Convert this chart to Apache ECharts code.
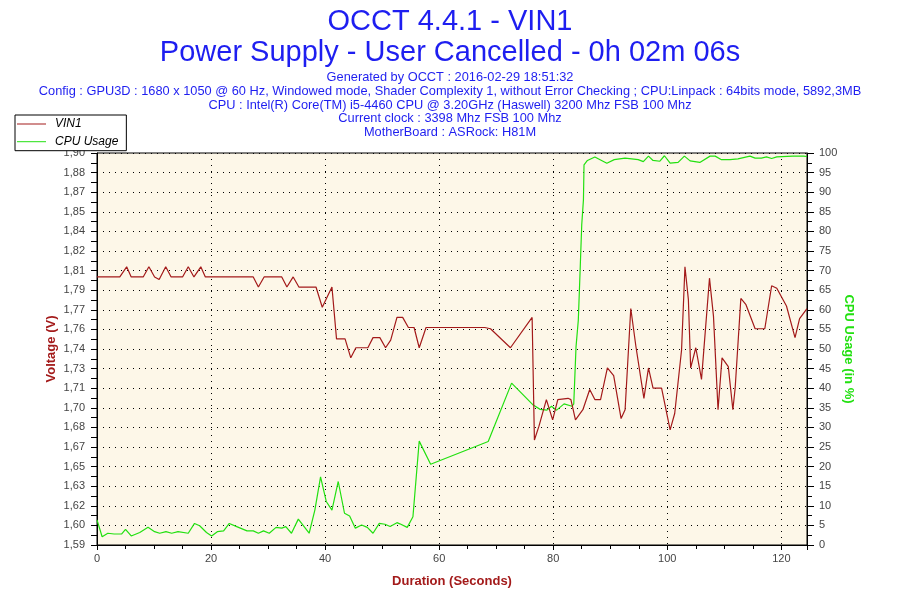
<!DOCTYPE html>
<html>
<head>
<meta charset="utf-8">
<script src="https://cdn.jsdelivr.net/npm/echarts@6/dist/echarts.min.js"></script>
<style>html,body{margin:0;padding:0;background:#fff}#c{width:900px;height:600px}</style>
</head>
<body>
<div id="c"></div>
<script>
// ---- data ----
const vinTime = [0,4,5.2,6.0,8.1,9.1,10.1,10.9,12.05,13.0,15.0,16.0,17.0,18.2,19.0,27.4,28.3,29.3,32.4,33.3,34.4,35.4,38.4,39.5,41.2,42.0,42.6,43.5,44.5,45.4,47.5,48.4,49.6,50.6,51.5,52.6,53.6,54.6,55.6,56.5,57.7,58.4,62.2,68.0,69.0,72.5,76.3,76.5,76.7,77.0,77.5,78.8,79.9,80.8,81.0,82.6,83.1,83.9,85.2,86.4,87.3,88.3,89.5,90.6,91.9,92.6,93.6,94.5,95.9,96.7,97.5,99.0,100.5,101.3,102.5,103.1,103.7,104.1,105.0,106.0,107.4,108.1,108.9,109.6,110.7,111.5,111.9,112.9,113.8,115.4,117.1,118.3,119.2,120.9,122.4,123.2,124.5];
const vinVolts = [1.802,1.802,1.810,1.802,1.802,1.810,1.802,1.800,1.810,1.802,1.802,1.810,1.802,1.810,1.802,1.802,1.794,1.802,1.802,1.794,1.802,1.794,1.794,1.778,1.794,1.753,1.753,1.753,1.738,1.746,1.746,1.754,1.754,1.746,1.752,1.770,1.770,1.762,1.762,1.746,1.762,1.762,1.762,1.762,1.761,1.746,1.770,1.770,1.673,1.673,1.684,1.705,1.689,1.705,1.706,1.706,1.705,1.689,1.697,1.713,1.705,1.705,1.730,1.724,1.690,1.697,1.777,1.747,1.706,1.730,1.714,1.714,1.681,1.694,1.744,1.810,1.784,1.730,1.746,1.721,1.801,1.771,1.697,1.738,1.731,1.697,1.714,1.785,1.780,1.761,1.761,1.795,1.793,1.779,1.754,1.769,1.777];
const cpuTime = [0,0.9,1.9,3.0,4.3,5.0,6.0,7.5,8.95,10.1,11.0,12.1,13.1,14.2,16.0,17.1,18.0,19.2,20.1,21.1,22.2,23.2,24.5,26.3,27.4,28.3,29.2,30.2,31.4,32.4,33.1,34.1,35.3,37.2,38.2,39.2,40.2,41.2,42.3,43.4,44.3,45.3,46.4,47.4,48.4,49.5,50.5,51.4,52.6,53.1,54.4,55.4,56.5,58.5,68.6,72.7,76.5,77.7,78.9,79.7,80.6,81.9,83.3,83.6,84.0,84.4,84.7,85.0,85.3,85.4,86.0,87.3,89.4,90.7,92.6,94.9,95.8,96.7,97.5,98.7,99.5,100.5,101.9,103.0,104.0,105.7,107.5,108.4,109.5,111.0,112.4,114.5,115.4,116.5,117.4,118.3,119.2,120.1,122.0,123.9,124.5];
const cpuUsage = [6.4,2.1,3.0,2.8,2.8,4.0,2.3,3.2,4.5,3.4,3.0,3.4,3.0,3.4,3.0,5.5,4.9,3.2,2.3,3.4,3.6,5.5,4.7,3.6,3.6,3.0,3.6,3.0,4.5,4.3,4.7,3.0,6.6,3.0,8.9,17.4,11.1,8.9,16.2,8.1,7.4,4.3,5.1,4.5,3.0,5.5,5.3,4.7,5.7,5.4,4.5,7.2,26.5,20.6,26.4,41.3,35.7,34.6,34.4,35.4,34.4,36.0,35.4,36.0,50.6,57.4,69.4,81.7,88.1,97.0,98.1,99.0,97.4,98.3,98.7,98.3,97.8,99.2,98.1,97.9,99.3,97.4,97.6,99.2,98.0,97.6,99.2,99.2,98.3,98.3,98.5,99.2,98.7,98.7,99.0,98.6,99.0,99.1,99.2,99.2,99.1];
const voltTickLabels = ['1,59','1,60','1,62','1,63','1,65','1,67','1,68','1,70','1,71','1,73','1,74','1,76','1,77','1,79','1,81','1,82','1,84','1,85','1,87','1,88','1,90'];
const xTickLabels = [0,20,40,60,80,100,120];
const titleLines = ['OCCT 4.4.1 - VIN1', 'Power Supply - User Cancelled - 0h 02m 06s'];
const subLines = [
  'Generated by OCCT : 2016-02-29 18:51:32',
  'Config : GPU3D : 1680 x 1050 @ 60 Hz, Windowed mode, Shader Complexity 1, without Error Checking ; CPU:Linpack : 64bits mode, 5892,3MB',
  'CPU : Intel(R) Core(TM) i5-4460 CPU @ 3.20GHz (Haswell) 3200 Mhz FSB 100 Mhz',
  'Current clock : 3398 Mhz FSB 100 Mhz',
  'MotherBoard : ASRock: H81M'
];

// ---- layout helpers ----
const vMin = 1.59, vMax = 1.90;
const vStep = (vMax - vMin) / (voltTickLabels.length - 1);
const voltTicks = voltTickLabels.map((_, i) => vMin + i * vStep);
const voltMinorTicks = [];
for (let i = 0; i < (voltTickLabels.length - 1) * 2 + 1; i++) voltMinorTicks.push(vMin + i * vStep / 2);

const vinData = vinTime.map((t, i) => [t, vinVolts[i]]);
const cpuData = cpuTime.map((t, i) => [t, cpuUsage[i]]);

const FONT = 'Liberation Sans, Arial, sans-serif';
const RED = '#A31A1A';
const GREEN = '#22E010';
const BLUE = '#1E1EF0';

const titles = [];
titleLines.forEach((t, i) => titles.push({
  text: t, left: 'center', top: 7 + i * 31, padding: 0,
  textStyle: {fontFamily: FONT, fontSize: 29, fontWeight: 'normal', color: BLUE}
}));
subLines.forEach((t, i) => titles.push({
  text: t, left: 'center', top: 71 + i * 13.75, padding: 0,
  textStyle: {fontFamily: FONT, fontSize: 12.8, fontWeight: 'normal', color: BLUE}
}));

const chart = echarts.init(document.getElementById('c'), null, {renderer: 'canvas'});
chart.setOption({
  backgroundColor: '#ffffff',
  animation: false,
  title: titles,
  legend: {
    orient: 'vertical', left: 15, top: 115,
    backgroundColor: '#ffffff', borderColor: '#000', borderWidth: 1, borderRadius: 0,
    padding: [2, 8, 2, 2], itemGap: 3.7,
    itemWidth: 29, itemHeight: 1, icon: 'rect',
    textStyle: {fontFamily: FONT, fontSize: 12, fontStyle: 'italic', color: '#000', lineHeight: 14, padding: [0,0,0,4]},
    data: ['VIN1', 'CPU Usage']
  },
  grid: {
    left: 97, right: 93, top: 153, bottom: 55,
    show: true, backgroundColor: '#FDF7E8', borderColor: '#000', borderWidth: 1,
    outerBoundsMode: 'none'
  },
  xAxis: {
    type: 'value', min: 0, max: 124.5, interval: 20,
    name: 'Duration (Seconds)', nameLocation: 'middle', nameGap: 30,
    nameTextStyle: {fontFamily: FONT, fontSize: 13, fontWeight: 'bold', color: RED},
    axisLine: {show: true, onZero: false, lineStyle: {color: '#000', width: 1}},
    axisTick: {show: true, length: 5, lineStyle: {color: '#000'}},
    minorTick: {show: true, splitNumber: 4, length: 4, lineStyle: {color: '#000'}},
    axisLabel: {
      fontFamily: FONT, fontSize: 11, color: '#444', margin: 8,
      formatter: v => (xTickLabels.indexOf(Math.round(v * 100) / 100) >= 0 ? String(v) : '')
    },
    splitLine: {show: true, lineStyle: {color: '#000', type: [1, 5], width: 1}},
    minorSplitLine: {show: false}
  },
  yAxis: [
    {
      type: 'value', min: vMin, max: vMax, position: 'left',
      name: 'Voltage (V)', nameLocation: 'middle', nameGap: 39, nameRotate: 90, nameMoveOverlap: false,
      nameTextStyle: {fontFamily: FONT, fontSize: 13, fontWeight: 'bold', color: RED},
      axisLine: {show: true, lineStyle: {color: '#000', width: 1}},
      axisTick: {show: true, length: 6, customValues: voltMinorTicks, lineStyle: {color: '#000'}},
      axisLabel: {
        fontFamily: FONT, fontSize: 11, color: '#444', margin: 12,
        customValues: voltTicks,
        formatter: v => voltTickLabels[Math.round((v - vMin) / vStep)]
      },
      splitLine: {show: false}
    },
    {
      type: 'value', min: 0, max: 100, interval: 5, position: 'right',
      name: 'CPU Usage (in %)', nameLocation: 'middle', nameGap: 35, nameRotate: -90, nameMoveOverlap: false,
      nameTextStyle: {fontFamily: FONT, fontSize: 13, fontWeight: 'bold', color: GREEN},
      axisLine: {show: true, lineStyle: {color: '#000', width: 1}},
      axisTick: {show: true, length: 7, lineStyle: {color: '#000'}},
      minorTick: {show: true, splitNumber: 2, length: 5, lineStyle: {color: '#000'}},
      axisLabel: {fontFamily: FONT, fontSize: 11, color: '#444', margin: 12},
      splitLine: {show: true, lineStyle: {color: '#000', type: [1, 5], width: 1}}
    }
  ],
  series: [
    {
      name: 'VIN1', type: 'line', yAxisIndex: 0, data: vinData,
      showSymbol: false, symbol: 'none', smooth: false,
      lineStyle: {color: RED, width: 1.2}, itemStyle: {color: RED}, z: 3
    },
    {
      name: 'CPU Usage', type: 'line', yAxisIndex: 1, data: cpuData,
      showSymbol: false, symbol: 'none', smooth: false,
      lineStyle: {color: GREEN, width: 1.2}, itemStyle: {color: GREEN}, z: 2
    }
  ]
});
</script>
</body>
</html>
